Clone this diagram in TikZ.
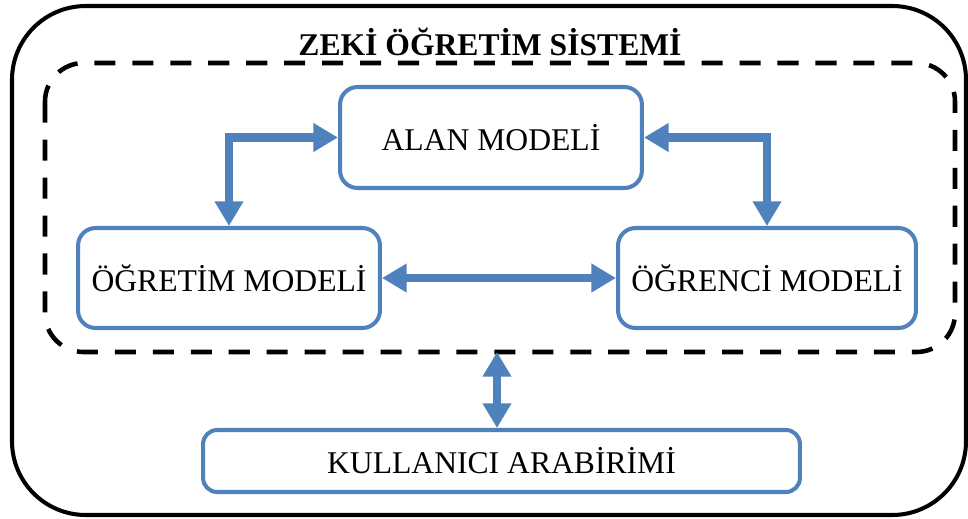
\documentclass[tikz,border=0pt]{standalone}
\usepackage{fontspec}
\setmainfont{Liberation Serif}
\usetikzlibrary{arrows.meta,calc,positioning}
\definecolor{xBlue}{RGB}{79,129,189}

\tikzset{
  modelbox/.style={draw=xBlue, line width=2.3pt, rounded corners=10pt, fill=white,
    inner sep=0pt, font=\fontsize{18}{21}\selectfont},
  dblarrow/.style={draw=xBlue, line width=5pt,
    {Triangle[length=14pt,width=15.5pt]}-{Triangle[length=14pt,width=15.5pt]}},
}

\begin{document}
\begin{tikzpicture}[x=0.02cm,y=-0.02cm]
    \useasboundingbox (0,0) rectangle (968,518);

    % outer frame and dashed inner frame
    \draw[line width=2.3pt, rounded corners=42pt] (12,6) rectangle (966,515);
    \draw[line width=2.6pt, dash pattern=on 12pt off 9.6pt, rounded corners=22pt] (45,63) rectangle (955,352);
    \node[font=\bfseries\fontsize{18}{21}\selectfont] (title) at (490,42) {ZEKİ ÖĞRETİM SİSTEMİ};

    \node[modelbox, minimum width=6.04cm, minimum height=2.02cm] (alan) at (491,137.5) {ALAN MODELİ};
    \node[modelbox, minimum width=6.04cm, minimum height=2cm] (ogretim) at (229,278) {ÖĞRETİM MODELİ};
    \node[modelbox, minimum width=5.96cm, minimum height=2cm] (ogrenci) at (767,278) {ÖĞRENCİ MODELİ};
    \node[modelbox, rounded corners=8pt, minimum width=11.94cm, minimum height=1.24cm] (kullanici) at (501.5,461) {KULLANICI ARABİRİMİ};

    \draw[dblarrow] (alan.west) -| (ogretim.north);
    \draw[dblarrow] (alan.east) -| (ogrenci.north);
    \draw[dblarrow] (ogretim.east) -- (ogrenci.west);
    \coordinate (dashbot) at (497,352);
    \draw[dblarrow] (dashbot) -- (dashbot |- kullanici.north);
\end{tikzpicture}
\end{document}
